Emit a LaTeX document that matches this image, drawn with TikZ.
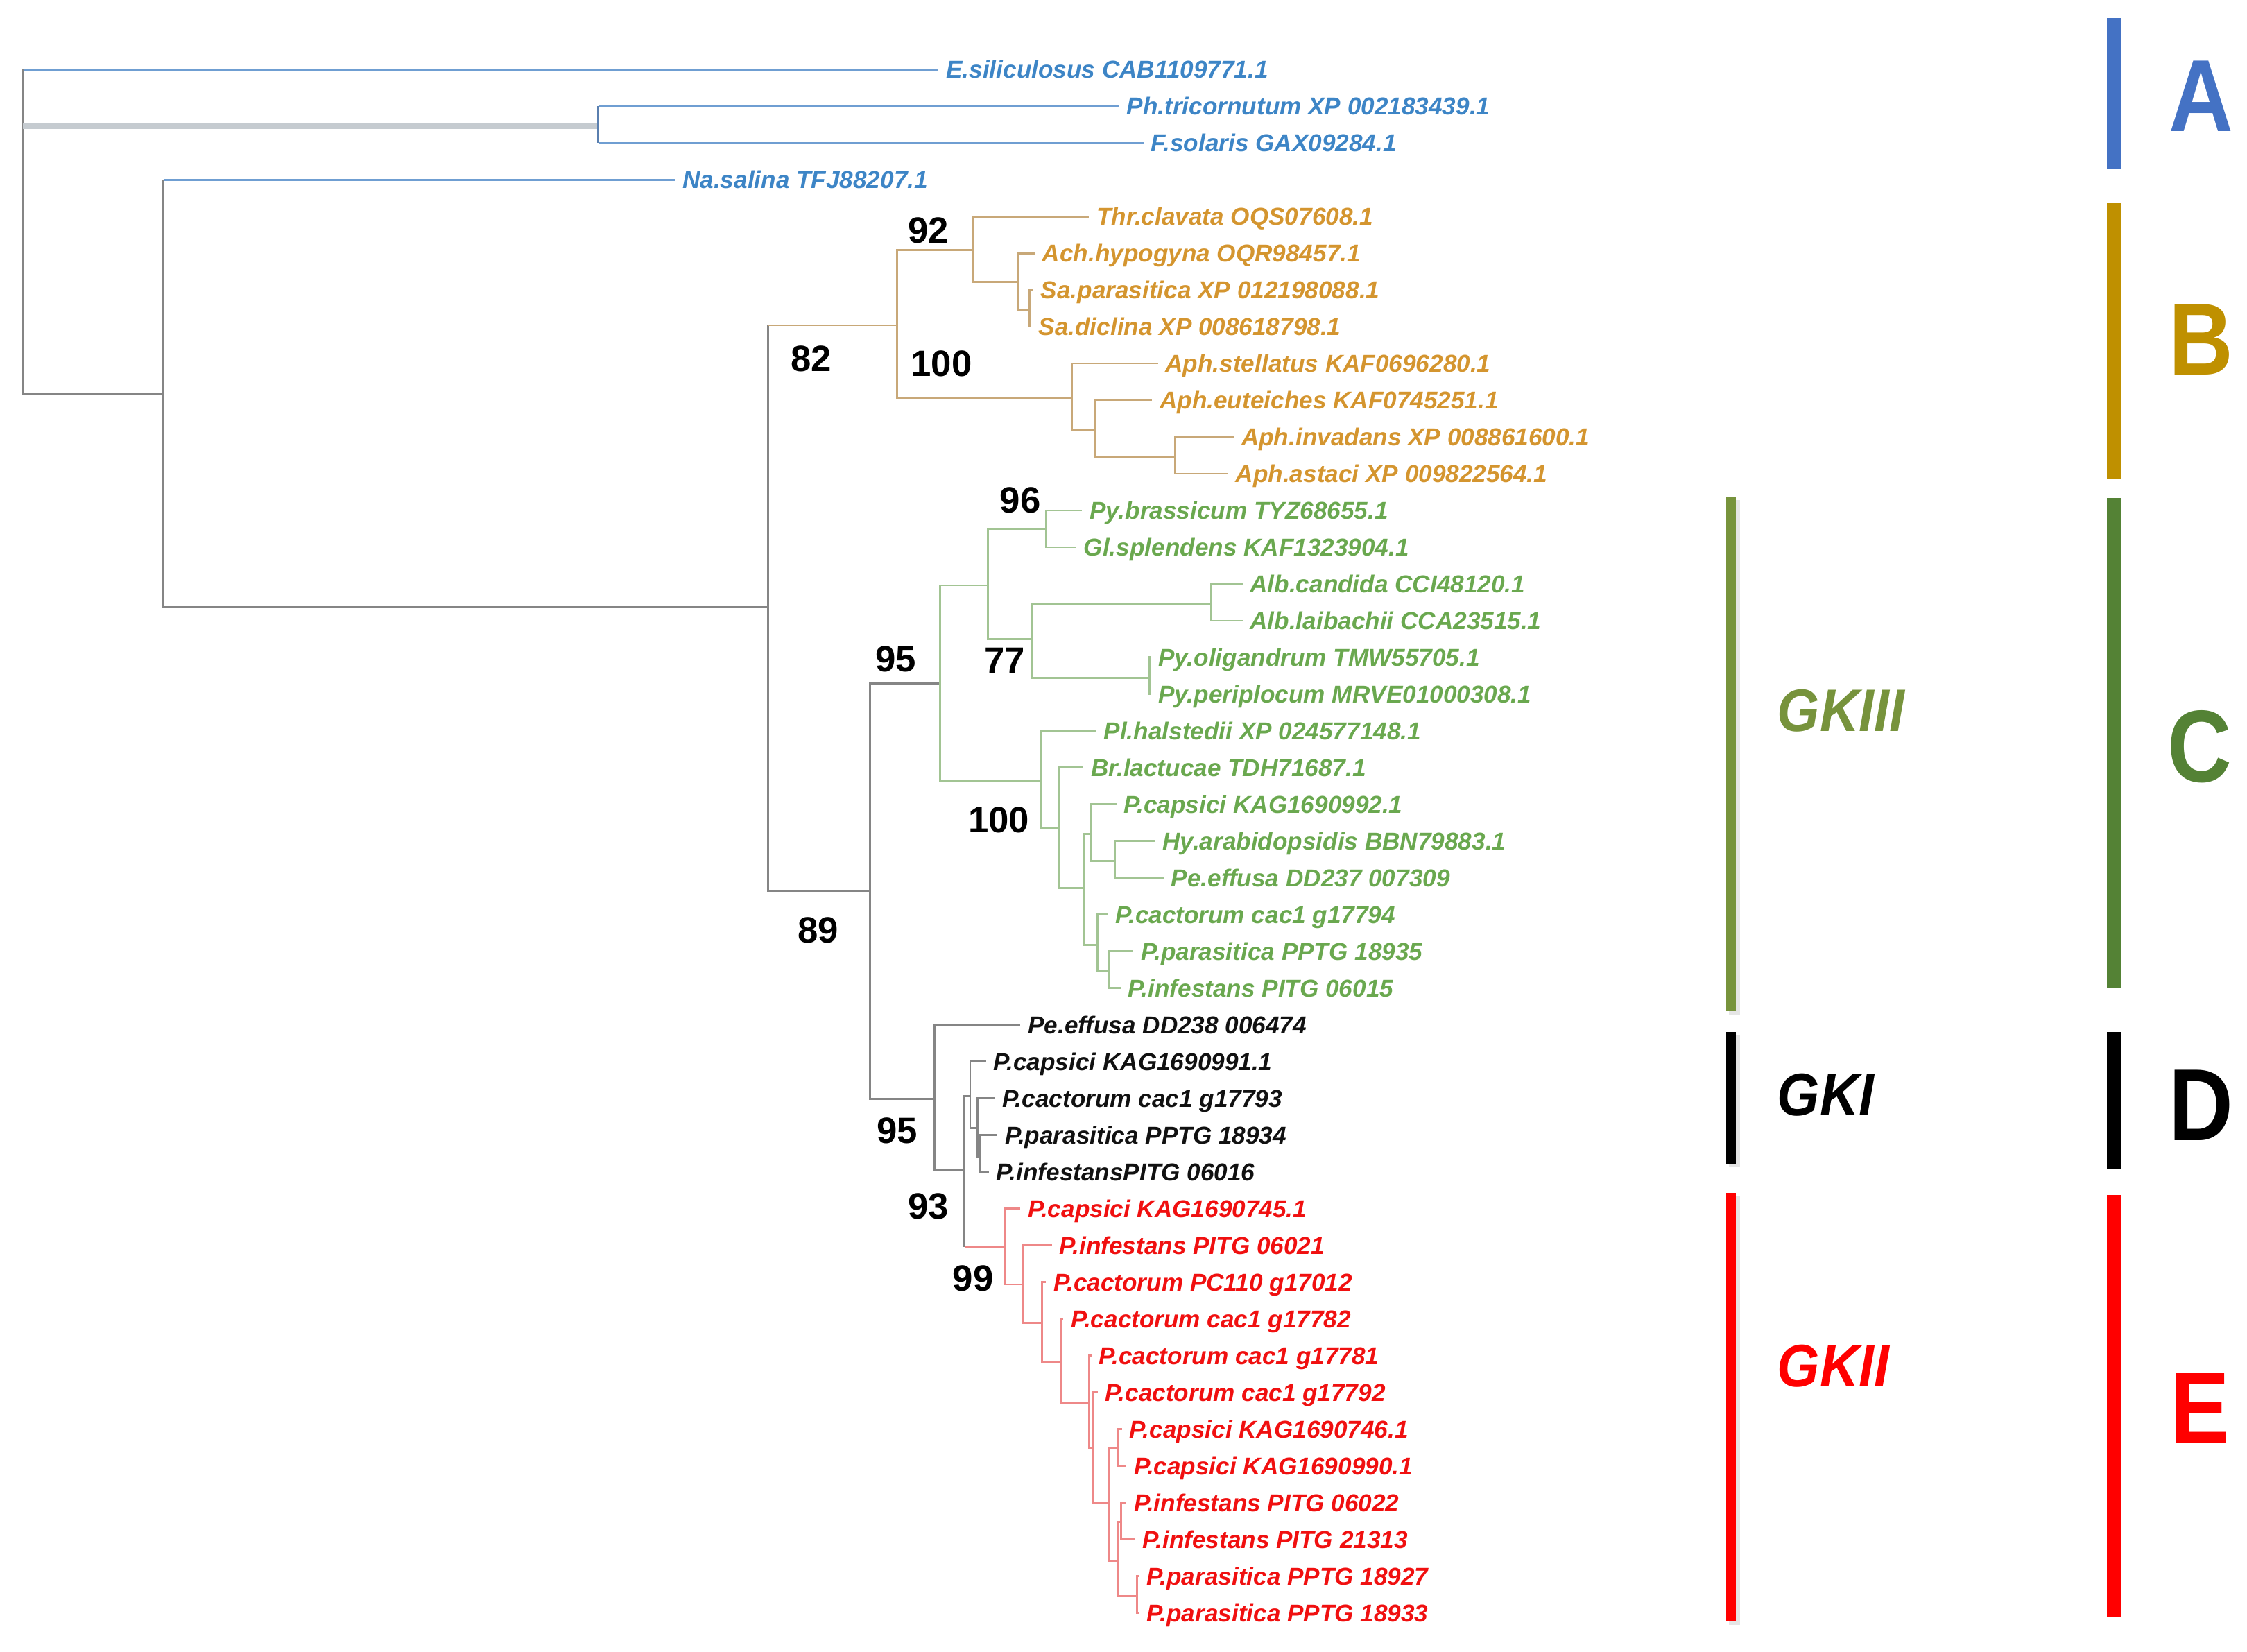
\documentclass[tikz,border=0pt]{standalone}
\usepackage{fontspec}
\setmainfont{Liberation Sans}
\definecolor{cAbar}{HTML}{4472C4}
\definecolor{cBbar}{HTML}{BF9000}
\definecolor{cCbar}{HTML}{548235}
\definecolor{cEbar}{HTML}{FF0000}
\definecolor{gkIII}{HTML}{77933C}
\definecolor{tA}{HTML}{3D85C6}
\definecolor{tB}{HTML}{D4952F}
\definecolor{tC}{HTML}{6AA84F}
\definecolor{tD}{HTML}{111111}
\definecolor{tE}{HTML}{F01010}
\definecolor{eAc}{HTML}{6F9ED2}
\definecolor{eAd}{HTML}{5A7FAF}
\definecolor{eBc}{HTML}{C8A878}
\definecolor{eCc}{HTML}{A2C493}
\definecolor{eEc}{HTML}{EE8888}
\definecolor{eRc}{HTML}{858585}
\definecolor{eThc}{HTML}{C5CBD0}
\begin{document}
\begin{tikzpicture}[x=0.020663cm,y=-0.020663cm,
  leaf/.style={anchor=west, inner xsep=0.103cm, inner ysep=0pt, text height=2.52mm, text depth=0pt,
    font=\fontsize{10}{12}\selectfont\bfseries\itshape},
  lA/.style={leaf,text=tA}, lB/.style={leaf,text=tB}, lC/.style={leaf,text=tC},
  lD/.style={leaf,text=tD}, lE/.style={leaf,text=tE},
  bs/.style={font=\fontsize{15}{18}\selectfont\bfseries, inner sep=0pt, text=black},
  grpl/.style={font=\fontsize{42}{48}\selectfont\bfseries, inner sep=0pt, xscale=0.87},
  gkl/.style={font=\fontsize{24.6}{28}\selectfont\bfseries\itshape, inner sep=0pt, anchor=west, xscale=0.91},
  eA/.style={draw=eAc, line width=0.8pt},
  eAv/.style={draw=eAd, line width=0.8pt},
  eB/.style={draw=eBc, line width=0.8pt},
  eC/.style={draw=eCc, line width=0.8pt},
  eD/.style={draw=eRc, line width=0.8pt},
  eE/.style={draw=eEc, line width=0.8pt},
  eR/.style={draw=eRc, line width=0.8pt},
  eTh/.style={draw=eThc, line width=2.2pt}]
\useasboundingbox (0,0) rectangle (1568,1152.3);

% ---- internal nodes
\coordinate (root) at (16,48.5);
\coordinate (nPF) at (417.5,88);
\coordinate (n1) at (114,275);
\coordinate (n2) at (536,423.5);
\coordinate (nB) at (626,227);
\coordinate (n92) at (679,174.5);
\coordinate (nAch) at (710,196.7);
\coordinate (nSa) at (718.5,216.7);
\coordinate (nAph) at (748,277.4);
\coordinate (nAe) at (764,300);
\coordinate (nAia) at (820,319);
\coordinate (n3) at (607,621.6);
\coordinate (nC) at (656,476.8);
\coordinate (n4) at (689.5,408.5);
\coordinate (n96) at (730,369.3);
\coordinate (n77) at (720,446);
\coordinate (nAlb) at (845,421.4);
\coordinate (nPy) at (802,473);
\coordinate (n100) at (726,544.8);
\coordinate (nBr) at (739,578);
\coordinate (nP) at (756,619.6);
\coordinate (nPc) at (761,582);
\coordinate (nHy) at (778,601);
\coordinate (nPcc) at (766,659.5);
\coordinate (nPp) at (774,677.7);
\coordinate (nDE) at (652,766.7);
\coordinate (n93) at (673,816.8);
\coordinate (nD) at (677,765);
\coordinate (nD2) at (682,787);
\coordinate (nD3) at (684,807);
\coordinate (n99) at (701,870);
\coordinate (nE2) at (714,896.3);
\coordinate (nE3) at (727,923);
\coordinate (nE4) at (740,950.5);
\coordinate (nE5) at (760,978.7);
\coordinate (nE6) at (762.6,1010.4);
\coordinate (nE7) at (774,1049);
\coordinate (nE8) at (780.4,1010.4);
\coordinate (nE9) at (780.4,1089);
\coordinate (nE10) at (782.2,1062);
\coordinate (nE11) at (793.4,1114);

% ---- leaves
\node[lA] (Esil) at (655,48.5) {E.siliculosus CAB1109771.1};
\node[lA] (Ph) at (781,74.14) {Ph.tricornutum XP 002183439.1};
\node[lA] (Fsol) at (798,99.78) {F.solaris GAX09284.1};
\node[lA] (Na) at (471,125.42) {Na.salina TFJ88207.1};
\node[lB] (Thr) at (760,151.06) {Thr.clavata OQS07608.1};
\node[lB] (Ach) at (722,176.7) {Ach.hypogyna OQR98457.1};
\node[lB] (Sapar) at (721,202.34) {Sa.parasitica XP 012198088.1};
\node[lB] (Sadic) at (719.5,227.98) {Sa.diclina XP 008618798.1};
\node[lB] (Aphstel) at (808,253.62) {Aph.stellatus KAF0696280.1};
\node[lB] (Apheut) at (804,279.26) {Aph.euteiches KAF0745251.1};
\node[lB] (Aphinv) at (861,304.9) {Aph.invadans XP 008861600.1};
\node[lB] (Aphast) at (857,330.54) {Aph.astaci XP 009822564.1};
\node[lC] (Pybras) at (755,356.18) {Py.brassicum TYZ68655.1};
\node[lC] (Glspl) at (751,381.82) {Gl.splendens KAF1323904.1};
\node[lC] (Albcan) at (867,407.46) {Alb.candida CCI48120.1};
\node[lC] (Alblai) at (867,433.1) {Alb.laibachii CCA23515.1};
\node[lC] (Pyoli) at (803,458.74) {Py.oligandrum TMW55705.1};
\node[lC] (Pyperi) at (803,484.38) {Py.periplocum MRVE01000308.1};
\node[lC] (Plhal) at (765,510.02) {Pl.halstedii XP 024577148.1};
\node[lC] (Brlac) at (756,535.66) {Br.lactucae TDH71687.1};
\node[lC] (Pcapa) at (779,561.3) {P.capsici KAG1690992.1};
\node[lC] (Hyara) at (806,586.94) {Hy.arabidopsidis BBN79883.1};
\node[lC] (Peeffa) at (812,612.58) {Pe.effusa DD237 007309};
\node[lC] (Pcaca) at (773,638.22) {P.cactorum cac1 g17794};
\node[lC] (Ppara) at (791,663.86) {P.parasitica PPTG 18935};
\node[lC] (Pinfa) at (782,689.5) {P.infestans PITG 06015};
\node[lD] (Peeffb) at (712,715.14) {Pe.effusa DD238 006474};
\node[lD] (Pcapb) at (688,740.78) {P.capsici KAG1690991.1};
\node[lD] (Pcacb) at (694,766.42) {P.cactorum cac1 g17793};
\node[lD] (Pparb) at (696,792.06) {P.parasitica PPTG 18934};
\node[lD] (Pinfb) at (690,817.7) {P.infestansPITG 06016};
\node[lE] (Pcapc) at (712,843.34) {P.capsici KAG1690745.1};
\node[lE] (Pinfc) at (734,868.98) {P.infestans PITG 06021};
\node[lE] (PCx) at (730,894.62) {P.cactorum PC110 g17012};
\node[lE] (gA) at (742,920.26) {P.cactorum cac1 g17782};
\node[lE] (gB) at (761.5,945.9) {P.cactorum cac1 g17781};
\node[lE] (gC) at (766,971.54) {P.cactorum cac1 g17792};
\node[lE] (Pcapd) at (783,997.18) {P.capsici KAG1690746.1};
\node[lE] (Pcape) at (786,1022.82) {P.capsici KAG1690990.1};
\node[lE] (Pinfd) at (786,1048.46) {P.infestans PITG 06022};
\node[lE] (Pinfe) at (792,1074.1) {P.infestans PITG 21313};
\node[lE] (Ppard) at (795,1099.74) {P.parasitica PPTG 18927};
\node[lE] (Ppare) at (795,1125.38) {P.parasitica PPTG 18933};

% ---- branches
\draw[eA] (root) |- (Esil.west);
\draw[eR] (root) |- (n1);
\draw[eTh] (root |- nPF) -- (nPF);
\draw[eAv] (nPF) -- (nPF |- Ph.west);
\draw[eAv] (nPF) -- (nPF |- Fsol.west);
\draw[eA] (nPF |- Ph.west) -- (Ph.west);
\draw[eA] (nPF |- Fsol.west) -- (Fsol.west);
\draw[eR] (n1) -- (n1 |- Na.west);
\draw[eA] (n1 |- Na.west) -- (Na.west);
\draw[eR] (n1) |- (n2);
\draw[eR] (n2) -- (n2 |- nB);
\draw[eB] (n2 |- nB) -- (nB);
\draw[eR] (n2) |- (n3);
% B
\draw[eB] (nB) |- (n92);
\draw[eB] (nB) |- (nAph);
\draw[eB] (n92) |- (Thr.west);
\draw[eB] (n92) |- (nAch);
\draw[eB] (nAch) |- (Ach.west);
\draw[eB] (nAch) |- (nSa);
\draw[eB] (nSa) |- (Sapar.west);
\draw[eB] (nSa) |- (Sadic.west);
\draw[eB] (nAph) |- (Aphstel.west);
\draw[eB] (nAph) |- (nAe);
\draw[eB] (nAe) |- (Apheut.west);
\draw[eB] (nAe) |- (nAia);
\draw[eB] (nAia) |- (Aphinv.west);
\draw[eB] (nAia) |- (Aphast.west);
% C
\draw[eR] (n3) |- (nC);
\draw[eC] (nC) |- (n4);
\draw[eC] (nC) |- (n100);
\draw[eC] (n4) |- (n96);
\draw[eC] (n4) |- (n77);
\draw[eC] (n96) |- (Pybras.west);
\draw[eC] (n96) |- (Glspl.west);
\draw[eC] (n77) |- (nAlb);
\draw[eC] (n77) |- (nPy);
\draw[eC] (nAlb) |- (Albcan.west);
\draw[eC] (nAlb) |- (Alblai.west);
\draw[eC] (nPy) |- (Pyoli.west);
\draw[eC] (nPy) |- (Pyperi.west);
\draw[eC] (n100) |- (Plhal.west);
\draw[eC] (n100) |- (nBr);
\draw[eC] (nBr) |- (Brlac.west);
\draw[eC] (nBr) |- (nP);
\draw[eC] (nP) |- (nPc);
\draw[eC] (nP) |- (nPcc);
\draw[eC] (nPc) |- (Pcapa.west);
\draw[eC] (nPc) |- (nHy);
\draw[eC] (nHy) |- (Hyara.west);
\draw[eC] (nHy) |- (Peeffa.west);
\draw[eC] (nPcc) |- (Pcaca.west);
\draw[eC] (nPcc) |- (nPp);
\draw[eC] (nPp) |- (Ppara.west);
\draw[eC] (nPp) |- (Pinfa.west);
% D
\draw[eR] (n3) |- (nDE);
\draw[eD] (nDE) |- (Peeffb.west);
\draw[eD] (nDE) |- (n93);
\draw[eD] (n93) |- (nD);
\draw[eD] (n93) -- (n93 |- n99);
\draw[eD] (nD) |- (Pcapb.west);
\draw[eD] (nD) |- (nD2);
\draw[eD] (nD2) |- (Pcacb.west);
\draw[eD] (nD2) |- (nD3);
\draw[eD] (nD3) |- (Pparb.west);
\draw[eD] (nD3) |- (Pinfb.west);
% E
\draw[eE] (n93 |- n99) -- (n99);
\draw[eE] (n99) |- (Pcapc.west);
\draw[eE] (n99) |- (nE2);
\draw[eE] (nE2) |- (Pinfc.west);
\draw[eE] (nE2) |- (nE3);
\draw[eE] (nE3) |- (PCx.west);
\draw[eE] (nE3) |- (nE4);
\draw[eE] (nE4) |- (gA.west);
\draw[eE] (nE4) |- (nE5);
\draw[eE] (nE5) |- (gB.west);
\draw[eE] (nE5) |- (nE6);
\draw[eE] (nE6) |- (gC.west);
\draw[eE] (nE6) |- (nE7);
\draw[eE] (nE7) |- (nE8);
\draw[eE] (nE7) |- (nE9);
\draw[eE] (nE8) |- (Pcapd.west);
\draw[eE] (nE8) |- (Pcape.west);
\draw[eE] (nE9) |- (nE10);
\draw[eE] (nE9) |- (nE11);
\draw[eE] (nE10) |- (Pinfd.west);
\draw[eE] (nE10) |- (Pinfe.west);
\draw[eE] (nE11) |- (Ppard.west);
\draw[eE] (nE11) |- (Ppare.west);

% ---- bootstrap values
\node[bs] (b92) at (648,161) {92};
\node[bs] (b82) at (566,250.5) {82};
\node[bs] (b100a) at (657,254) {100};
\node[bs] (b96) at (712,349) {96};
\node[bs] (b95a) at (625,460) {95};
\node[bs] (b77) at (701,461) {77};
\node[bs] (b100b) at (697,572) {100};
\node[bs] (b89) at (571,649) {89};
\node[bs] (b95b) at (626,789) {95};
\node[bs] (b93) at (648,842) {93};
\node[bs] (b99) at (679,892) {99};

% ---- GK bars and labels
\fill[black!10] (1206.5,349) rectangle (1214,708);
\fill[gkIII] (1204.5,347) rectangle (1211.5,705.5);
\fill[black!10] (1206.5,722) rectangle (1214,814);
\fill[black] (1204.5,720) rectangle (1211.5,812);
\fill[black!10] (1206.5,834.5) rectangle (1214,1134);
\fill[cEbar] (1204.5,832.6) rectangle (1211.5,1131.7);
\node[gkl, text=gkIII] (gk3) at (1240,496) {GKIII};
\node[gkl, text=black] (gk1) at (1240,764) {GKI};
\node[gkl, text=cEbar] (gk2) at (1240,953) {GKII};

% ---- group bars and letters
\fill[cAbar] (1470,12.5) rectangle (1480,117.6);
\fill[cBbar] (1470,142) rectangle (1480,334.5);
\fill[cCbar] (1470,347.6) rectangle (1480,689.4);
\fill[black] (1470,720) rectangle (1480,815.8);
\fill[cEbar] (1470,834) rectangle (1480,1128);
\node[grpl, text=cAbar] (LA) at (1536,67) {A};
\node[grpl, text=cBbar] (LB) at (1536,237) {B};
\node[grpl, text=cCbar] (LC) at (1535,521) {C};
\node[grpl, text=black] (LD) at (1536,771.5) {D};
\node[grpl, text=cEbar] (LE) at (1535,982.6) {E};
\end{tikzpicture}
\end{document}
